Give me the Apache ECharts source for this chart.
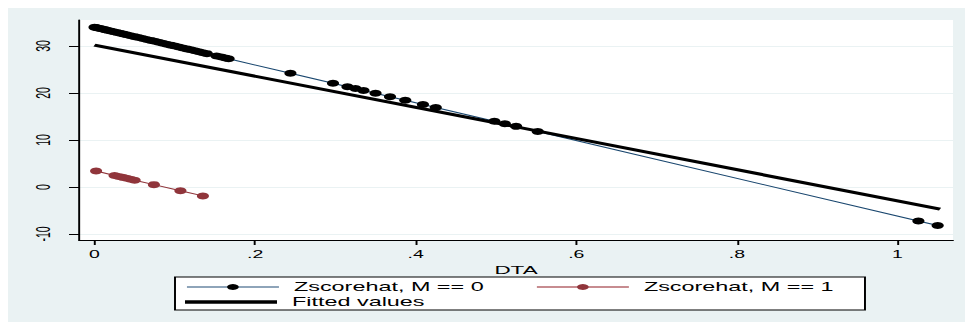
<!DOCTYPE html>
<html><head><meta charset="utf-8">
<script src="https://cdn.jsdelivr.net/npm/echarts@6/dist/echarts.min.js"></script>
<style>
html,body{margin:0;padding:0;background:#ffffff;width:965px;height:322px;overflow:hidden;}
#wrap{position:absolute;left:8px;top:8px;transform-origin:0 0;background:#eaf2f3;}
</style></head><body>
<div id="wrap"></div>
<script>
// ---- data ----
const dta0 = [0, 0.002, 0.004, 0.007, 0.01, 0.013, 0.016, 0.02, 0.024, 0.028, 0.032, 0.036, 0.04, 0.045, 0.05, 0.055, 0.06, 0.065, 0.07, 0.075, 0.08, 0.085, 0.09, 0.095, 0.1, 0.105, 0.11, 0.115, 0.12, 0.125, 0.13, 0.135, 0.14, 0.152, 0.158, 0.163, 0.167, 0.244, 0.297, 0.315, 0.325, 0.335, 0.35, 0.368, 0.387, 0.409, 0.425, 0.498, 0.511, 0.525, 0.552, 1.026, 1.05];
const zhat0 = [34.0, 33.92, 33.84, 33.72, 33.6, 33.48, 33.36, 33.2, 33.04, 32.87, 32.71, 32.55, 32.39, 32.19, 31.99, 31.79, 31.59, 31.39, 31.19, 30.99, 30.78, 30.58, 30.38, 30.18, 29.98, 29.78, 29.58, 29.38, 29.18, 28.98, 28.77, 28.57, 28.37, 27.89, 27.65, 27.45, 27.29, 24.19, 22.06, 21.34, 20.94, 20.53, 19.93, 19.21, 18.44, 17.56, 16.91, 13.98, 13.46, 12.9, 11.81, -7.25, -8.21];
const dta1 = [0.002, 0.025, 0.03, 0.035, 0.04, 0.045, 0.05, 0.074, 0.107, 0.135];
const zhat1 = [3.4, 2.45, 2.25, 2.05, 1.85, 1.65, 1.45, 0.5, -0.8, -1.9];
const fitX = [0, 1.053];
const fitY = [30.2, -4.7];
const xTicks = [0, 0.2, 0.4, 0.6, 0.8, 1];
const xTickLabels = ['0', '.2', '.4', '.6', '.8', '1'];
const yTicks = [-10, 0, 10, 20, 30];
const yTickLabels = ['-10', '0', '10', '20', '30'];
const seriesNames = ['Zscorehat, M == 0', 'Zscorehat, M == 1', 'Fitted values'];
const xTitle = 'DTA';

// ---- layout (reference image is stretched horizontally) ----
const SX = 1.95;
const W = 957 / SX, H = 314;
const X = v => (v - 8) / SX;   // final px -> chart px
const Y = v => v - 8;
const FONT = 'Liberation Sans, Arial, sans-serif';

const wrap = document.getElementById('wrap');
wrap.style.width = W + 'px';
wrap.style.height = H + 'px';
wrap.style.transform = 'scaleX(' + SX + ')';

const chart = echarts.init(wrap, null, {renderer: 'svg', width: W, height: H});

const option = {
  animation: false,
  backgroundColor: 'transparent',
  textStyle: {fontFamily: FONT},
  grid: {
    left: X(79), right: W - X(953), top: Y(20), bottom: H - Y(240),
    show: true, backgroundColor: '#ffffff', borderWidth: 0
  },
  xAxis: {
    type: 'value', min: -0.0193, max: 1.0691,
    name: xTitle, nameLocation: 'middle', nameGap: 17,
    nameTextStyle: {color: '#000', fontSize: 11.5, fontFamily: FONT},
    axisLine: {show: true, onZero: false, lineStyle: {color: '#000', width: 1}},
    axisTick: {show: true, length: 5, customValues: xTicks, lineStyle: {color: '#000'}},
    axisLabel: {
      customValues: xTicks, margin: 9, color: '#000', fontSize: 10, fontFamily: FONT,
      formatter: v => { const i = xTicks.findIndex(t => Math.abs(t - v) < 1e-9); return i >= 0 ? xTickLabels[i] : ''; }
    },
    splitLine: {show: false}
  },
  yAxis: {
    type: 'value', min: -11.28, max: 35.53,
    axisLine: {show: true, onZero: false, lineStyle: {color: '#000', width: 1}},
    axisTick: {show: true, length: 10 / SX, customValues: yTicks, lineStyle: {color: '#000'}},
    axisLabel: {
      customValues: yTicks, rotate: 90, margin: 13.5, color: '#000', fontSize: 10.5, fontFamily: FONT,
      formatter: v => { const i = yTicks.findIndex(t => Math.abs(t - v) < 1e-9); return i >= 0 ? yTickLabels[i] : ''; }
    },
    splitLine: {show: true, lineStyle: {color: '#eaf2f3', width: 1}}
  },
  legend: [
    {
      data: [
        {name: seriesNames[0], lineStyle: {color: '#8ea4b9', width: 2}},
        {name: seriesNames[1], lineStyle: {color: '#c78c90', width: 2}}
      ],
      orient: 'horizontal', left: X(175), top: Y(277),
      itemWidth: 92 / SX, itemHeight: 7.5, itemGap: 26.2,
      padding: [4, 16, 17, 10 / SX],
      backgroundColor: '#ffffff', borderColor: '#000', borderWidth: 1, borderRadius: 0,
      selectedMode: false,
      textStyle: {color: '#000', fontSize: 12, fontFamily: FONT, padding: [0, 0, 0, 2.7]}
    },
    {
      data: [{name: seriesNames[2], icon: 'rect', itemStyle: {color: '#000'}}],
      orient: 'horizontal', left: X(185), top: Y(303) - 7,
      itemWidth: 92 / SX, itemHeight: 3.5, padding: 0, z: 10,
      selectedMode: false,
      textStyle: {color: '#000', fontSize: 12, fontFamily: FONT, padding: [0, 0, 0, 2.7]}
    }
  ],
  series: [
    {
      name: seriesNames[0], type: 'line',
      data: dta0.map((x, i) => [x, zhat0[i]]),
      symbol: 'circle', symbolSize: [6.2, 7], showSymbol: true,
      itemStyle: {color: '#000'},
      lineStyle: {color: '#1a476f', width: 1},
      emphasis: {disabled: true}
    },
    {
      name: seriesNames[1], type: 'line',
      data: dta1.map((x, i) => [x, zhat1[i]]),
      symbol: 'circle', symbolSize: [6.2, 7], showSymbol: true,
      itemStyle: {color: '#90353b'},
      lineStyle: {color: '#90353b', width: 1},
      emphasis: {disabled: true}
    },
    {
      name: seriesNames[2], type: 'line',
      data: fitX.map((x, i) => [x, fitY[i]]),
      symbol: 'none', showSymbol: false,
      itemStyle: {color: '#000'},
      lineStyle: {color: '#000', width: 3},
      emphasis: {disabled: true}
    }
  ]
};
chart.setOption(option);
</script>
</body></html>
